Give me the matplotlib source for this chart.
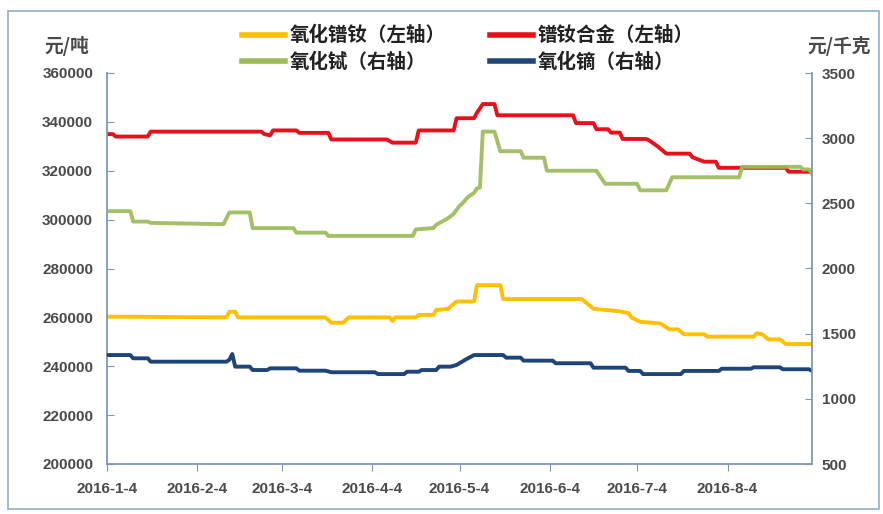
import matplotlib
matplotlib.use("Agg")
import matplotlib.pyplot as plt
import pandas as pd
from matplotlib.patches import Rectangle

plt.rcParams['font.family'] = ['Noto Sans CJK SC', 'DejaVu Sans']

# ---- data ----
# 镨钕合金 (left axis, 元/吨)
alloy_dates = ["2016-01-04", "2016-01-06", "2016-01-07", "2016-01-18", "2016-01-19", "2016-02-26",
               "2016-02-27", "2016-02-29", "2016-03-01", "2016-03-09", "2016-03-10", "2016-03-20",
               "2016-03-21", "2016-04-09", "2016-04-11", "2016-04-19", "2016-04-20", "2016-05-02",
               "2016-05-03", "2016-05-09", "2016-05-10", "2016-05-11", "2016-05-12", "2016-05-16",
               "2016-05-17", "2016-06-12", "2016-06-13", "2016-06-19", "2016-06-20", "2016-06-24",
               "2016-06-25", "2016-06-28", "2016-06-29", "2016-07-07", "2016-07-08", "2016-07-11",
               "2016-07-14", "2016-07-22", "2016-07-23", "2016-07-27", "2016-07-31", "2016-08-01",
               "2016-08-24", "2016-08-25", "2016-09-02"]
alloy_vals = [335000, 335000, 334000, 334000, 336000, 336000,
              335000, 334500, 336500, 336500, 335500, 335500,
              332800, 332800, 331500, 331500, 336500, 336500,
              341500, 341500, 343800, 345500, 347300, 347300,
              342700, 342700, 339500, 339500, 337000, 337000,
              335600, 335600, 333000, 333000, 332500, 330000,
              327000, 327000, 325500, 323700, 323700, 321200,
              321200, 319600, 319600]

# 氧化镨钕 (left axis, 元/吨)
prnd_dates = ["2016-01-04", "2016-02-14", "2016-02-15", "2016-02-17", "2016-02-18", "2016-03-19",
              "2016-03-21", "2016-03-25", "2016-03-27", "2016-04-10", "2016-04-11", "2016-04-12",
              "2016-04-19", "2016-04-20", "2016-04-25", "2016-04-26", "2016-04-30", "2016-05-03",
              "2016-05-09", "2016-05-10", "2016-05-18", "2016-05-19", "2016-06-15", "2016-06-19",
              "2016-06-28", "2016-07-01", "2016-07-02", "2016-07-05", "2016-07-12", "2016-07-15",
              "2016-07-18", "2016-07-20", "2016-07-27", "2016-07-28", "2016-08-13", "2016-08-14",
              "2016-08-16", "2016-08-18", "2016-08-22", "2016-08-24", "2016-09-02"]
prnd_vals = [260300, 260000, 262300, 262300, 260000, 260000,
             257800, 257800, 260000, 260000, 258500, 260000,
             260000, 261000, 261000, 263000, 263500, 266500,
             266500, 273200, 273200, 267500, 267500, 263500,
             262500, 261700, 260000, 258200, 257500, 255100,
             255100, 253100, 253100, 252100, 252100, 253500,
             253000, 251000, 251000, 249100, 249100]

# 氧化铽 (right axis, 元/千克)
tb_dates = ["2016-01-04", "2016-01-12", "2016-01-13", "2016-01-18", "2016-01-19", "2016-02-13",
            "2016-02-15", "2016-02-22", "2016-02-23", "2016-03-08", "2016-03-09", "2016-03-19",
            "2016-03-20", "2016-04-18", "2016-04-19", "2016-04-25", "2016-04-26", "2016-04-30",
            "2016-05-02", "2016-05-04", "2016-05-05", "2016-05-07", "2016-05-09", "2016-05-10",
            "2016-05-11", "2016-05-12", "2016-05-16", "2016-05-18", "2016-05-25", "2016-05-26",
            "2016-06-02", "2016-06-03", "2016-06-20", "2016-06-23", "2016-07-04", "2016-07-05",
            "2016-07-14", "2016-07-16", "2016-08-08", "2016-08-09", "2016-08-29", "2016-08-30",
            "2016-09-01", "2016-09-02"]
tb_vals = [2440, 2440, 2360, 2360, 2350, 2340,
           2430, 2430, 2310, 2310, 2275, 2275,
           2250, 2250, 2300, 2310, 2335, 2385,
           2420, 2480, 2500, 2550, 2580, 2615,
           2620, 3050, 3050, 2900, 2900, 2850,
           2850, 2750, 2750, 2650, 2650, 2600,
           2600, 2700, 2700, 2780, 2780, 2760,
           2760, 2725]

# 氧化镝 (right axis, 元/千克)
dy_dates = ["2016-01-04", "2016-01-12", "2016-01-13", "2016-01-18", "2016-01-19", "2016-02-14",
            "2016-02-15", "2016-02-16", "2016-02-17", "2016-02-22", "2016-02-23", "2016-02-28",
            "2016-02-29", "2016-03-09", "2016-03-10", "2016-03-19", "2016-03-21", "2016-04-05",
            "2016-04-06", "2016-04-15", "2016-04-16", "2016-04-20", "2016-04-21", "2016-04-26",
            "2016-04-27", "2016-05-01", "2016-05-03", "2016-05-06", "2016-05-09", "2016-05-19",
            "2016-05-20", "2016-05-25", "2016-05-26", "2016-06-05", "2016-06-06", "2016-06-18",
            "2016-06-19", "2016-06-30", "2016-07-01", "2016-07-05", "2016-07-06", "2016-07-19",
            "2016-07-20", "2016-08-01", "2016-08-02", "2016-08-12", "2016-08-13", "2016-08-22",
            "2016-08-23", "2016-09-01", "2016-09-02"]
dy_vals = [1336, 1336, 1311, 1311, 1285, 1285,
           1300, 1344, 1247, 1247, 1221, 1221,
           1234, 1234, 1216, 1216, 1204, 1204,
           1190, 1190, 1208, 1208, 1221, 1221,
           1247, 1247, 1260, 1300, 1336, 1336,
           1316, 1316, 1293, 1293, 1273, 1273,
           1239, 1239, 1214, 1214, 1190, 1190,
           1214, 1214, 1231, 1231, 1242, 1242,
           1227, 1227, 1214]

tick_dates = ["2016-01-04", "2016-02-04", "2016-03-04", "2016-04-04",
              "2016-05-04", "2016-06-04", "2016-07-04", "2016-08-04"]
tick_labels = ["2016-1-4", "2016-2-4", "2016-3-4", "2016-4-4",
               "2016-5-4", "2016-6-4", "2016-7-4", "2016-8-4"]
left_ticks = [200000, 220000, 240000, 260000, 280000, 300000, 320000, 340000, 360000]
right_ticks = [500, 1000, 1500, 2000, 2500, 3000, 3500]

names = ["氧化镨钕（左轴）", "镨钕合金（左轴）", "氧化铽（右轴）", "氧化镝（右轴）"]
colors = ["#FFC000", "#E8101A", "#9BBB59", "#1F4478"]

# ---- figure ----
W, H = 883, 514
fig = plt.figure(figsize=(W / 100, H / 100), dpi=100)
fig.patch.set_facecolor("white")
fig.patches.append(Rectangle((8 / W, 1 - 509 / H), (879 - 8) / W, (509 - 11) / H,
                             transform=fig.transFigure, fill=False,
                             edgecolor="#8FB0C8", linewidth=1.2))

ax = fig.add_axes([107 / W, 1 - 464 / H, (812 - 107) / W, (464 - 73) / H])
ax2 = ax.twinx()

axis_col = "#7F96B2"
text_col = "#4A4A4A"
lw = 2.8

td = lambda lst: pd.to_datetime(lst)
l1, = ax.plot(td(prnd_dates), prnd_vals, color=colors[0], lw=lw, solid_joinstyle="round")
l2, = ax.plot(td(alloy_dates), alloy_vals, color=colors[1], lw=lw, solid_joinstyle="round")
l3, = ax2.plot(td(tb_dates), tb_vals, color=colors[2], lw=lw, solid_joinstyle="round", alpha=0.92)
l4, = ax2.plot(td(dy_dates), dy_vals, color=colors[3], lw=lw, solid_joinstyle="round")

ax.set_xlim(pd.Timestamp("2016-01-04"), pd.Timestamp("2016-09-02"))
ax.set_ylim(200000, 360000)
ax2.set_ylim(500, 3500)
ax.set_yticks(left_ticks)
ax.set_yticklabels([str(v) for v in left_ticks])
ax2.set_yticks(right_ticks)
ax2.set_yticklabels([str(v) for v in right_ticks])
ax.set_xticks(td(tick_dates))
ax.set_xticklabels(tick_labels)

for a in (ax, ax2):
    for s in a.spines.values():
        s.set_visible(False)
ax.spines["left"].set_visible(True)
ax.spines["bottom"].set_visible(True)
ax2.spines["right"].set_visible(True)
for s in (ax.spines["left"], ax.spines["bottom"], ax2.spines["right"]):
    s.set_color(axis_col)
    s.set_linewidth(1.3)

ax.tick_params(axis="y", direction="in", length=5, color=axis_col, labelcolor=text_col, pad=10)
ax2.tick_params(axis="y", direction="in", length=5, color=axis_col, labelcolor=text_col, pad=7)
ax.tick_params(axis="x", direction="out", length=5, color=axis_col, labelcolor=text_col, pad=8)
for lab in ax.get_yticklabels() + ax2.get_yticklabels() + ax.get_xticklabels():
    lab.set_fontfamily(["Liberation Sans", "DejaVu Sans"])
    lab.set_fontsize(11)
    lab.set_fontweight("bold")

# units
fig.text(67 / W, 1 - 46 / H, "元/吨", ha="center", va="center", fontsize=13.5,
         fontweight="bold", color=text_col)
fig.text(839 / W, 1 - 46 / H, "元/千克", ha="center", va="center", fontsize=13.5,
         fontweight="bold", color=text_col)

# legend (column-major order: col1 = 氧化镨钕, 氧化铽 ; col2 = 镨钕合金, 氧化镝)
leg = fig.legend([l1, l3, l2, l4], [names[0], names[2], names[1], names[3]], ncol=2,
                 loc="upper left", bbox_to_anchor=(242 / W, 1 - 26 / H), frameon=False,
                 prop=dict(family=["Noto Sans CJK SC", "DejaVu Sans"], size=14, weight="bold"),
                 handlelength=2.2, handletextpad=0.25, columnspacing=2.3, labelspacing=0.36,
                 borderpad=0.0, borderaxespad=0.0)
for t in leg.get_texts():
    t.set_color("#222222")
for h in leg.legend_handles:
    h.set_linewidth(4)
    h.set_alpha(1)

fig.savefig("out.png", dpi=100, facecolor="white")
